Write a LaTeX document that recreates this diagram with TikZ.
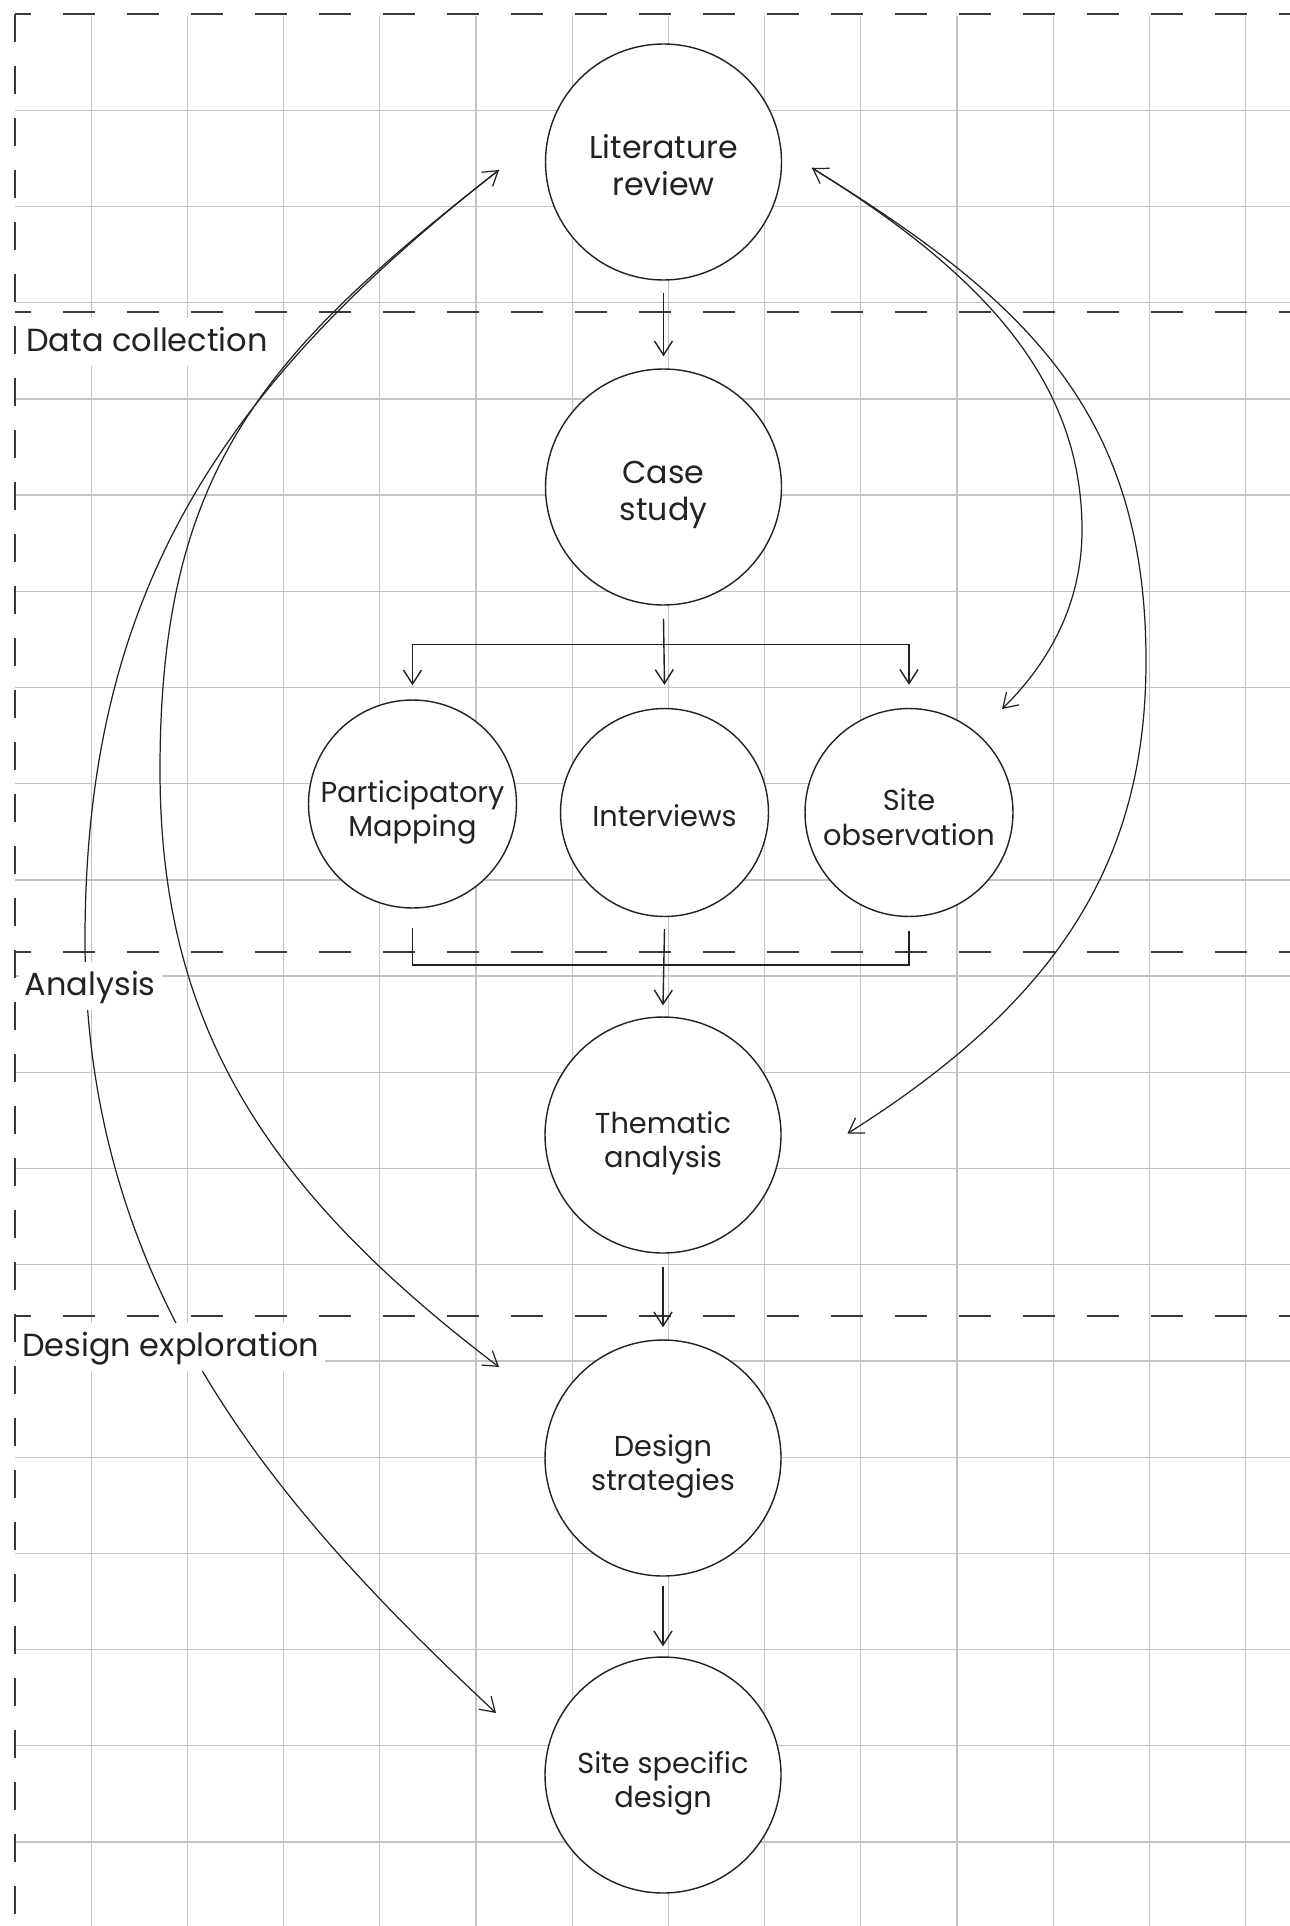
\documentclass[tikz,border=0pt]{standalone}
\usepackage{fontspec}
\setmainfont{Poppins}
\usetikzlibrary{arrows.meta}
\definecolor{ink}{HTML}{222222}
\definecolor{gridgray}{HTML}{C4C4C4}
\definecolor{dashgray}{HTML}{3A3A3A}

\begin{document}
\begin{tikzpicture}[x=0.02cm, y=-0.02cm, >={Straight Barb[length=0.28cm, width=0.36cm]}]
	\tikzstyle{every node}=[text=ink, align=center, font=\fontsize{16.4}{19.6}\selectfont]
	\tikzstyle{bigcircle}=[circle, draw=ink, line width=0.8pt, fill=white, minimum size=4.72cm, inner sep=0pt, text height=1.3cm, text depth=0cm]
	\tikzstyle{topcircle}=[bigcircle, font=\fontsize{18}{21.3}\selectfont, text height=1.34cm]
	\tikzstyle{smallcircle}=[circle, draw=ink, line width=0.8pt, fill=white, minimum size=4.16cm, inner sep=0pt, text height=1.3cm, text depth=0cm]
	\tikzstyle{phaselabel}=[anchor=base west, fill=white, inner xsep=0.12cm, inner ysep=0.08cm, text height=0.58cm, text depth=0.22cm, font=\fontsize{18.2}{21}\selectfont]
	\tikzstyle{flow}=[draw=ink, line width=0.8pt]
	\tikzstyle{loop}=[draw=ink, line width=0.7pt]
	\tikzstyle{phaseline}=[draw=dashgray, line width=0.75pt, dash pattern=on 0.64cm off 0.64cm, dash phase=0.32cm]
	\fill[white] (0,0) rectangle (1290,1926);
	\useasboundingbox (0,0) rectangle (1290,1926);
	% grid
	\foreach \i in {0,...,12} \draw[gridgray, line width=0.7pt] (91.2+96.2*\i,16) -- (91.2+96.2*\i,1926);
	\foreach \j in {0,...,18} \draw[gridgray, line width=0.7pt] (15,110.3+96.2*\j) -- (1290,110.3+96.2*\j);
	% phase borders
	\draw[phaseline] (15,14) -- (1290,14);
	\draw[phaseline] (15,312) -- (1290,312);
	\draw[phaseline] (15,952) -- (1290,952);
	\draw[phaseline] (15,1316) -- (1290,1316);
	\draw[draw=dashgray, line width=0.75pt, dash pattern=on 0.56cm off 0.48cm] (15,14) -- (15,1926);
	% steps
	\draw (663.5,162) node (lit) [topcircle] {Literature\\review};
	\draw (663.5,487) node (cs) [topcircle] {Case\\study};
	\draw (412.5,804) node (pm) [smallcircle] {Participatory\\Mapping};
	\draw (664.5,812.5) node (int) [smallcircle, text height=0.54cm] {Interviews};
	\draw (909,812.5) node (so) [smallcircle] {Site\\observation};
	\draw (663,1135) node (tha) [bigcircle] {Thematic\\analysis};
	\draw (663,1458) node (ds) [bigcircle] {Design\\strategies};
	\draw (663,1775) node (ssd) [bigcircle] {Site specific\\design};
	\draw[flow,->] ([yshift=-0.24cm]lit.south) -- ([yshift=0.24cm]cs.north);
	\draw[flow,->] ([yshift=-0.26cm]cs.south) -- ([yshift=0.46cm]int.north);
	\draw[flow,->] ([yshift=-0.78cm]cs.south) -| ([yshift=0.28cm]pm.north);
	\draw[flow,->] ([yshift=-0.78cm]cs.south) -| ([yshift=0.46cm]so.north);
	\draw[flow] ([yshift=-0.38cm]pm.south) |- ([yshift=-0.96cm]int.south);
	\draw[flow] ([yshift=-0.28cm]so.south) |- ([yshift=-0.96cm]int.south);
	\draw[flow,->] ([yshift=-0.24cm]int.south) -- ([yshift=0.22cm]tha.north);
	\draw[flow,->] ([yshift=-0.26cm]tha.south) -- ([yshift=0.24cm]ds.north);
	\draw[flow,->] ([yshift=-0.18cm]ds.south) -- ([yshift=0.2cm]ssd.north);
	% feedback loops
	\coordinate (litW) at ([shift={(-164.5,8)}]lit.center);
	\coordinate (litE) at ([shift={(148.5,6)}]lit.center);
	\coordinate (soNE) at ([shift={(93,-103.5)}]so.center);
	\coordinate (thaE) at ([shift={(184.5,-1.5)}]tha.center);
	\coordinate (dsW) at ([shift={(-164,-91)}]ds.center);
	\coordinate (ssdW) at ([shift={(-167,-62)}]ssd.center);
	\draw[loop,<->] (litW) .. controls (223,386) and (85,590) .. (85,940) .. controls (85,1290) and (277,1508) .. (ssdW);
	\draw[loop,->] (litW) .. controls (262.6,354.8) and (160,470) .. (160,770) .. controls (160,1020) and (260,1185.5) .. (dsW);
	\draw[loop,<->] (litE) .. controls (1024.75,299.5) and (1146,411) .. (1146,661) .. controls (1146,861) and (1058.7,1000.5) .. (thaE);
	\draw[loop,->] (litE) .. controls (982,273) and (1082,380) .. (1082,530) .. controls (1082,600) and (1052,660) .. (soNE);
	% phase labels
	\draw (20,351) node (dc) [phaselabel] {Data collection};
	\draw (18.5,995) node (an) [phaselabel] {Analysis};
	\draw (16,1356) node (de) [phaselabel] {Design exploration};
\end{tikzpicture}
\end{document}
